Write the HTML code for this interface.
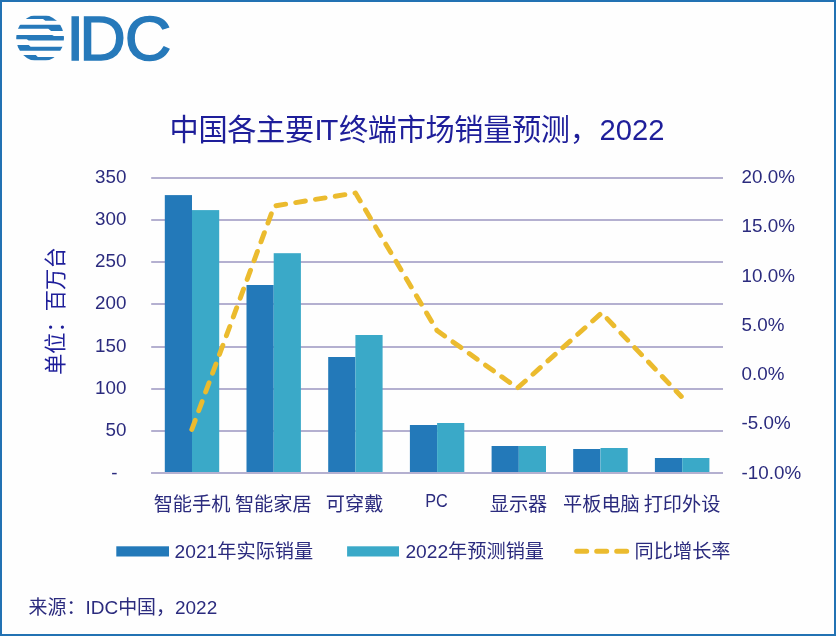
<!DOCTYPE html>
<html lang="zh-CN"><head><meta charset="utf-8"><title>中国各主要IT终端市场销量预测，2022</title>
<style>
html,body{margin:0;padding:0;background:#fff;}
body{width:836px;height:636px;overflow:hidden;position:relative;}
svg{display:block;position:absolute;left:0;top:0;}
text{font-family:"Liberation Sans","Noto Sans CJK SC",sans-serif;}
.t{fill:#2b2b7e;font-size:19.2px;}
.n{fill:#2b2b7e;font-size:18.8px;}
</style></head><body>
<svg width="836" height="636" viewBox="0 0 836 636">
<rect x="0" y="0" width="836" height="636" fill="#fefefe"/>
<rect x="1" y="1" width="834" height="634" fill="none" stroke="#2272b3" stroke-width="2"/>
<g id="logo" fill="#2679ba">
<defs><clipPath id="gc"><circle cx="40.1" cy="38" r="23.9"/></clipPath></defs>
<g clip-path="url(#gc)">
<path d="M10 15.7 H70 V20.7 H45.4 L43 19.1 H10 Z"/>
<path d="M10 24.8 H70 V30.9 H51.1 L48.3 28.7 H10 Z"/>
<path d="M10 35.1 H52.1 L54 36 H70 V40.6 H28.7 L26.7 39.2 H10 Z"/>
<path d="M10 44.9 H28.7 L30.6 46.8 H70 V50.7 H10 Z"/>
<path d="M10 55 H35.8 L37.8 56.9 H70 V60.25 H10 Z"/>
</g>
<text id="idc" x="0" y="0" font-size="63.3" fill="#2679ba" stroke="#2679ba" stroke-width="1.4" stroke-linejoin="miter" transform="translate(0,59.8) scale(1.02,1)"><tspan x="65.0">I</tspan><tspan x="77.6">D</tspan><tspan x="122.3">C</tspan></text>
</g>
<text y="139.5" font-size="29.2" fill="#1e1e9a"><tspan x="169.6" letter-spacing="-0.35">中国各主要</tspan><tspan x="314.5">I</tspan><tspan x="320.6">T</tspan><tspan x="339.0" letter-spacing="-0.35">终端市场销量预测，</tspan><tspan x="599.5">2022</tspan></text>
<g stroke="#b4b0d0" stroke-width="1.9"><line x1="151.2" y1="178" x2="723.0" y2="178"/><line x1="151.2" y1="220" x2="723.0" y2="220"/><line x1="151.2" y1="262" x2="723.0" y2="262"/><line x1="151.2" y1="304" x2="723.0" y2="304"/><line x1="151.2" y1="347" x2="723.0" y2="347"/><line x1="151.2" y1="389" x2="723.0" y2="389"/><line x1="151.2" y1="431" x2="723.0" y2="431"/><line x1="151.2" y1="473" x2="723.0" y2="473"/></g>
<g><rect x="164.8" y="195.1" width="27.2" height="277.9" fill="#2379b9"/><rect x="192.0" y="210.1" width="27.2" height="262.9" fill="#3aa9c8"/><rect x="246.5" y="285.0" width="27.2" height="188.0" fill="#2379b9"/><rect x="273.7" y="253.2" width="27.2" height="219.8" fill="#3aa9c8"/><rect x="328.2" y="357.0" width="27.2" height="116.0" fill="#2379b9"/><rect x="355.4" y="335.0" width="27.2" height="138.0" fill="#3aa9c8"/><rect x="409.9" y="425.0" width="27.2" height="48.0" fill="#2379b9"/><rect x="437.1" y="423.0" width="27.2" height="50.0" fill="#3aa9c8"/><rect x="491.6" y="446.0" width="27.2" height="27.0" fill="#2379b9"/><rect x="518.8" y="446.0" width="27.2" height="27.0" fill="#3aa9c8"/><rect x="573.2" y="449.0" width="27.2" height="24.0" fill="#2379b9"/><rect x="600.5" y="448.0" width="27.2" height="25.0" fill="#3aa9c8"/><rect x="654.9" y="458.0" width="27.2" height="15.0" fill="#2379b9"/><rect x="682.2" y="458.0" width="27.2" height="15.0" fill="#3aa9c8"/></g>
<line x1="151.2" y1="473" x2="723.0" y2="473" stroke="#b4b0d0" stroke-width="1.9"/>
<polyline points="191.8,429.5 274.2,206.0 355.5,193.0 437.0,330.5 517.5,388.0 601.7,312.9 681.3,396.5" fill="none" stroke="#ebbb2e" stroke-width="4.9" stroke-linecap="round" stroke-linejoin="round" stroke-dasharray="9.8 10.2"/>
<text class="n" x="126.4" y="183.0" text-anchor="end">350</text><text class="n" x="126.4" y="225.0" text-anchor="end">300</text><text class="n" x="126.4" y="267.0" text-anchor="end">250</text><text class="n" x="126.4" y="309.0" text-anchor="end">200</text><text class="n" x="126.4" y="352.0" text-anchor="end">150</text><text class="n" x="126.4" y="394.0" text-anchor="end">100</text><text class="n" x="126.4" y="436.0" text-anchor="end">50</text><text class="n" x="114.4" y="479.2" text-anchor="middle">-</text>
<text class="n" x="741.6" y="182.9">20.0%</text><text class="n" x="741.6" y="232.2">15.0%</text><text class="n" x="741.6" y="281.5">10.0%</text><text class="n" x="741.6" y="330.8">5.0%</text><text class="n" x="741.6" y="380.1">0.0%</text><text class="n" x="741.6" y="429.4">-5.0%</text><text class="n" x="741.6" y="478.7">-10.0%</text>
<text transform="translate(63.2,311.2) rotate(-90)" text-anchor="middle" font-size="21.3" fill="#1e1e9a">单位：百万台</text>
<text class="t" x="192" y="510.6" text-anchor="middle">智能手机</text><text class="t" x="273.3" y="510.6" text-anchor="middle">智能家居</text><text class="t" x="354.6" y="510.6" text-anchor="middle">可穿戴</text><text class="t" x="425.2" y="506.9" textLength="22.6" lengthAdjust="spacingAndGlyphs">PC</text><text class="t" x="518.5" y="510.6" text-anchor="middle">显示器</text><text class="t" x="601.4" y="510.6" text-anchor="middle">平板电脑</text><text class="t" x="682" y="510.6" text-anchor="middle">打印外设</text>
<rect x="116.3" y="546.3" width="52.7" height="10.2" fill="#2379b9"/><text class="t" x="174.6" y="558">2021年实际销量</text><rect x="347.1" y="546.3" width="51.9" height="10.2" fill="#3aa9c8"/><text class="t" x="405.4" y="558">2022年预测销量</text><line x1="576.7" y1="551.3" x2="629" y2="551.3" stroke="#ebbb2e" stroke-width="5" stroke-linecap="round" stroke-dasharray="10 10"/><text class="t" x="634.6" y="558">同比增长率</text>
<text class="t" x="28.6" y="614.2" textLength="188.6" lengthAdjust="spacingAndGlyphs">来源：IDC中国，2022</text>
</svg></body></html>
